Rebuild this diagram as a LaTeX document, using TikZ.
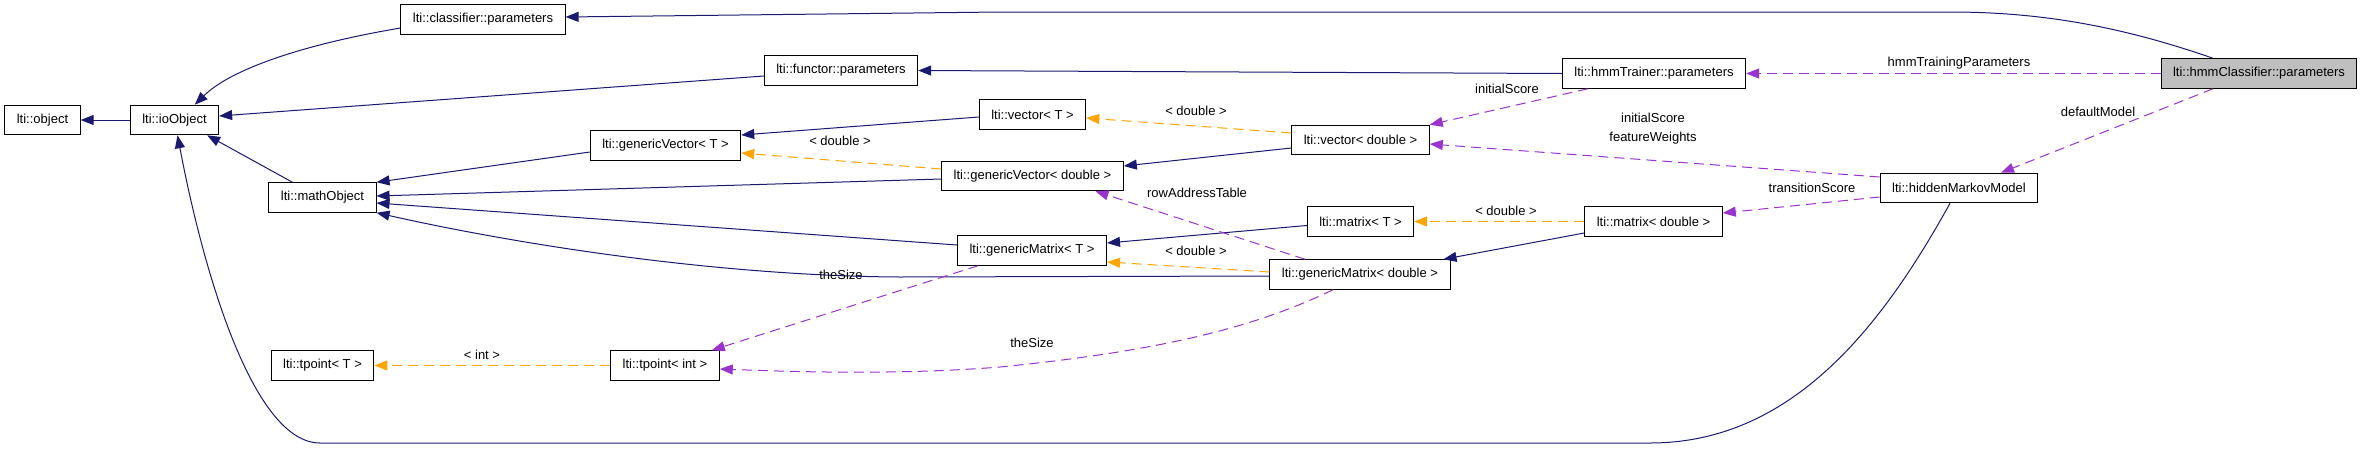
\documentclass[tikz,border=0pt]{standalone}
\usepackage{fontspec}
\setmainfont{Liberation Sans}
\usetikzlibrary{arrows.meta}

\definecolor{inhblue}{HTML}{191970}
\definecolor{tplorange}{HTML}{FFA500}
\definecolor{usepurple}{HTML}{9A32CD}

\begin{document}
\begin{tikzpicture}[
    x=1pt, y=-1pt,
    box/.style={rectangle, draw=black, line width=1pt, minimum height=29.5pt, inner xsep=12pt, inner ysep=0pt, font=\fontsize{13}{15}\selectfont},
    curbox/.style={box, fill=black!25},
    lbl/.style={font=\fontsize{13}{19}\selectfont, align=center, inner sep=0pt},
    inh/.style={-{Triangle[length=13pt,width=10pt]}, color=inhblue, line width=1pt},
    tpl/.style={-{Triangle[length=13pt,width=10pt]}, color=tplorange, line width=1pt, dash pattern=on 10pt off 6pt},
    use/.style={-{Triangle[length=13pt,width=10pt]}, color=usepurple, line width=1pt, dash pattern=on 10pt off 6pt}
  ]
    \useasboundingbox (0,0) rectangle (2363,448);

    % classes
    \node[box] (obj) at (42.5,120) {lti::object};
    \node[box] (io) at (174.5,120) {lti::ioObject};
    \node[box] (clsp) at (483,19.5) {lti::classifier::parameters};
    \node[box] (fun) at (841,70.5) {lti::functor::parameters};
    \node[box] (mo) at (322.5,197.5) {lti::mathObject};
    \node[box] (gvt) at (665.5,145.5) {lti::genericVector< T >};
    \node[box] (vt) at (1032.5,114.5) {lti::vector< T >};
    \node[box] (gvd) at (1032.5,176) {lti::genericVector< double >};
    \node[box] (gmt) at (1032,250.5) {lti::genericMatrix< T >};
    \node[box] (tpt) at (322.5,365.5) {lti::tpoint< T >};
    \node[box] (tpi) at (665,365.5) {lti::tpoint< int >};
    \node[box] (vd) at (1360.5,140) {lti::vector< double >};
    \node[box] (mt) at (1360.5,221.5) {lti::matrix< T >};
    \node[box] (gmd) at (1360,274.5) {lti::genericMatrix< double >};
    \node[box] (hmmt) at (1654,73.5) {lti::hmmTrainer::parameters};
    \node[box] (md) at (1653.5,221.5) {lti::matrix< double >};
    \node[box] (hmm) at (1959,188) {lti::hiddenMarkovModel};
    \node[curbox] (hmmc) at (2259,73.5) {lti::hmmClassifier::parameters};

    % inheritance
    \draw[inh] (io) -- (obj);
    \draw[inh] ([yshift=-8.5pt]clsp.west) .. controls (300,45) and (230,70) .. (io.37);
    \draw[inh] ([yshift=-5.5pt]fun.west) -- ([yshift=4pt]io.east);
    \draw[inh] ([xshift=-30pt]mo.north) -- ([xshift=-12pt]io.south east);
    \draw[inh] ([xshift=-9pt]hmm.south) .. controls (1880,330) and (1790,443) .. (1650,443)
      -- (320,443) .. controls (255,443) and (205,280) .. ([xshift=3pt]io.south);
    \draw[inh] ([yshift=-6.5pt]gvt.west) -- (mo.north east);
    \draw[inh] ([yshift=-3pt]gvd.west) -- ([yshift=1.5pt]mo.east);
    \draw[inh] ([yshift=5.5pt]gmt.west) -- ([yshift=-5.5pt]mo.east);
    \draw[inh] ([yshift=-1.5pt]gmd.west) -- (900,277) .. controls (720,276) and (520,245) .. (mo.south east);
    \draw[inh] ([yshift=-2.5pt]vt.west) -- ([yshift=10.5pt]gvt.east);
    \draw[inh] ([yshift=-8pt]vd.west) -- ([yshift=10pt]gvd.east);
    \draw[inh] ([yshift=-4pt]mt.west) -- ([yshift=7.5pt]gmt.east);
    \draw[inh] ([yshift=-11.5pt]md.west) -- ([xshift=-7pt]gmd.north east);
    \draw[inh] ([xshift=-46pt]hmmc.north) .. controls (2120,26) and (2040,12) .. (1950,12)
      -- (1000,12) -- ([yshift=2.5pt]clsp.east);
    \draw[inh] (hmmt.west) -- (fun.east);

    % template instances
    \draw[tpl] ([yshift=7pt]vd.west) -- ([yshift=-3.5pt]vt.east);
    \draw[tpl] ([yshift=7pt]gvd.west) -- ([yshift=-7.5pt]gvt.east);
    \draw[tpl] (md.west) -- (mt.east);
    \draw[tpl] ([yshift=2.5pt]gmd.west) -- ([yshift=-11.5pt]gmt.east);
    \draw[tpl] (tpi.west) -- (tpt.east);

    % members
    \draw[use] (hmmc.west) -- (hmmt.east);
    \draw[use] ([xshift=26pt]hmmt.south west) -- (vd.north east);
    \draw[use] ([yshift=11pt]hmm.west) -- ([yshift=-4pt]vd.east);
    \draw[use] ([yshift=-9pt]hmm.west) -- ([yshift=8.5pt]md.east);
    \draw[use] ([xshift=-46pt]hmmc.south) -- ([xshift=42pt]hmm.north);
    \draw[use] ([xshift=-55pt]gmd.north) -- ([xshift=63pt]gvd.south);
    \draw[use] ([xshift=21pt]gmt.south west) -- ([xshift=-8pt]tpi.north east);
    \draw[use] ([xshift=-27pt]gmd.south) .. controls (1250,330) and (1150,352) .. (1000,367)
      .. controls (900,375) and (800,372) .. ([yshift=-3.5pt]tpi.east);

    % labels
    \node[lbl] (l-vt) at (1196,111) {< double >};
    \node[lbl] (l-gvt) at (840,141) {< double >};
    \node[lbl] (l-mt) at (1506,211) {< double >};
    \node[lbl] (l-gmt) at (1196,251) {< double >};
    \node[lbl] (l-tp) at (482,355) {< int >};
    \node[lbl] (l-htp) at (1959,63) {hmmTrainingParameters};
    \node[lbl] (l-is) at (1507,89) {initialScore};
    \node[lbl] (l-isfw) at (1653,128.5) {initialScore\\featureWeights};
    \node[lbl] (l-trs) at (1812,188) {transitionScore};
    \node[lbl] (l-dm) at (2098,112) {defaultModel};
    \node[lbl] (l-rat) at (1197,193) {rowAddressTable};
    \node[lbl] (l-sz1) at (841,275) {theSize};
    \node[lbl] (l-sz2) at (1032,343) {theSize};
\end{tikzpicture}
\end{document}
